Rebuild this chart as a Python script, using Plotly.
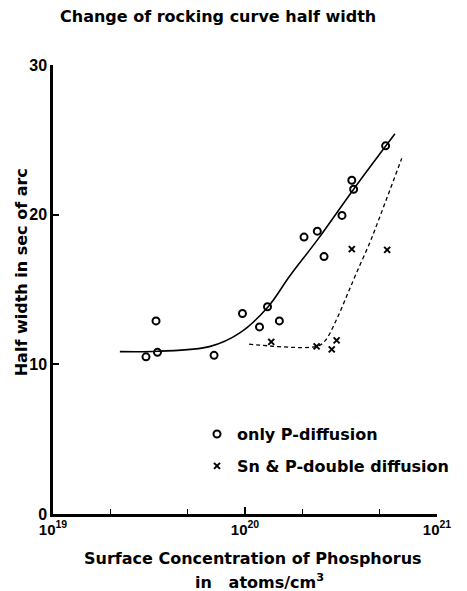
import plotly.graph_objects as go

# Data
p_only_x = [3.05e19, 3.5e19, 3.44e19, 6.9e19, 9.7e19, 1.19e20, 1.31e20, 1.51e20,
            2.03e20, 2.38e20, 2.58e20, 3.2e20, 3.6e20, 3.68e20, 5.4e20]
p_only_y = [10.5, 10.8, 12.9, 10.6, 13.4, 12.5, 13.85, 12.9,
            18.5, 18.9, 17.2, 19.95, 22.3, 21.7, 24.6]

sn_p_x = [1.37e20, 2.36e20, 2.83e20, 3.0e20, 3.6e20, 5.5e20]
sn_p_y = [11.5, 11.2, 11.0, 11.6, 17.7, 17.65]

solid_x = [2.23e19, 3.5e19, 6.6e19, 9.4e19, 1.32e20, 1.71e20, 2.41e20, 3.68e20, 6.04e20]
solid_y = [10.85, 10.87, 11.2, 12.1, 13.85, 15.9, 18.4, 21.7, 25.4]

dash_x = [1.05e20, 2.36e20, 2.61e20, 3.0e20, 3.39e20, 3.82e20, 4.48e20, 4.85e20, 6.55e20]
dash_y = [11.35, 11.2, 11.57, 13.0, 14.58, 16.15, 18.17, 19.3, 23.76]

x_tickvals = [1e19, 1e20, 1e21]
x_ticktext = ["10<sup>19</sup>", "10<sup>20</sup>", "10<sup>21</sup>"]
x_minor = [2e19, 5e19, 2e20, 5e20]
y_tickvals = [0, 10, 20, 30]

FONT = "DejaVu Sans"
FS = 16
TXT = dict(family=FONT, size=FS, color="black", weight="bold")
YTICK = dict(family="Liberation Sans", size=16, color="black", weight="bold")
XTICK = dict(family="Liberation Sans", size=15, color="black", weight="bold")

fig = go.Figure()
fig.add_trace(go.Scatter(x=solid_x, y=solid_y, mode="lines", line=dict(color="black", width=1.6, shape="spline"),
                         showlegend=False, hoverinfo="skip"))
fig.add_trace(go.Scatter(x=dash_x, y=dash_y, mode="lines",
                         line=dict(color="black", width=1.3, dash="4px,3px", shape="spline"),
                         showlegend=False, hoverinfo="skip"))
fig.add_trace(go.Scatter(x=p_only_x, y=p_only_y, mode="markers", name="only P-diffusion",
                         marker=dict(symbol="circle-open", size=7, color="black", line=dict(width=2)),
                         legend="legend"))
fig.add_trace(go.Scatter(x=sn_p_x, y=sn_p_y, mode="markers", name="Sn & P-double diffusion",
                         marker=dict(symbol="x-thin", size=6, color="black", line=dict(width=2, color="black")),
                         legend="legend2"))

fig.update_layout(
    width=467, height=591,
    margin=dict(l=53, r=30, t=65, b=77),
    paper_bgcolor="white", plot_bgcolor="white",
    font=TXT,
    xaxis=dict(type="log", range=[19, 21], tickvals=x_tickvals, ticktext=x_ticktext,
               ticks="inside", ticklen=7, tickwidth=1.5, tickcolor="black",
               showline=True, linecolor="black", linewidth=2.5, showgrid=False, zeroline=False,
               tickfont=XTICK,
               minor=dict(tickvals=x_minor, ticks="inside", ticklen=5, tickwidth=1.3, tickcolor="black", showgrid=False)),
    yaxis=dict(range=[0, 30], tickvals=y_tickvals, ticks="inside", ticklen=6, tickwidth=1.5, tickcolor="black",
               showline=True, linecolor="black", linewidth=2.5, showgrid=False, zeroline=False,
               tickfont=YTICK, ticklabelstandoff=0),
    legend=dict(x=0.375, y=0.178, xanchor="left", yanchor="middle", bgcolor="rgba(0,0,0,0)",
                font=TXT, itemwidth=30),
    legend2=dict(x=0.375, y=0.107, xanchor="left", yanchor="middle", bgcolor="rgba(0,0,0,0)",
                 font=TXT, itemwidth=30),
    annotations=[
        dict(text="Change of rocking curve half width", xref="paper", yref="paper", x=0.43, y=1.107,
             xanchor="center", yanchor="middle", showarrow=False, font=TXT),
        dict(text="Half width in sec of arc", xref="paper", yref="paper", x=-0.08, y=0.539,
             xanchor="center", yanchor="middle", textangle=-90, showarrow=False, font=TXT),
        dict(text="Surface Concentration of Phosphorus", xref="paper", yref="paper", x=0.52, y=-0.098,
             xanchor="center", yanchor="middle", showarrow=False, font=TXT),
        dict(text="in   atoms/cm<sup>3</sup>", xref="paper", yref="paper", x=0.539, y=-0.151,
             xanchor="center", yanchor="middle", showarrow=False, font=TXT),
    ],
)

fig.write_html("out.html")
